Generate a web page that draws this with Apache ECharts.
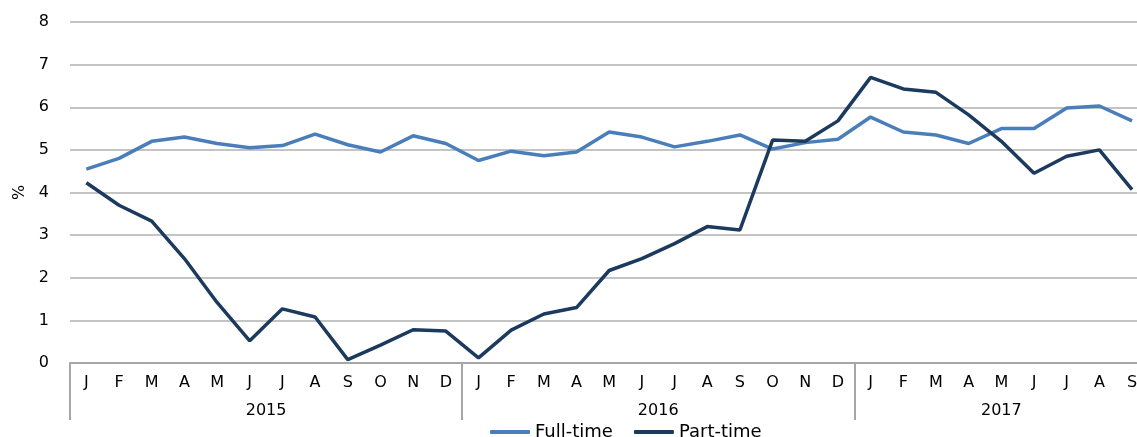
<!DOCTYPE html>
<html>
<head>
<meta charset="utf-8">
<script src="https://cdn.jsdelivr.net/npm/echarts@6/dist/echarts.min.js"></script>
<style>html,body{margin:0;padding:0;background:#fff;}#c{width:1137px;height:437px;}</style>
</head>
<body>
<div id="c"></div>
<script>
var months = ['J','F','M','A','M','J','J','A','S','O','N','D',
              'J','F','M','A','M','J','J','A','S','O','N','D',
              'J','F','M','A','M','J','J','A','S'];
var years = ['2015','2016','2017'];
var yearStarts = [0, 12, 24];
var yearMids = [6, 18, 28.5];
var fullTime = [4.55,4.8,5.2,5.3,5.15,5.05,5.1,5.37,5.12,4.95,5.33,5.15,
                4.75,4.97,4.86,4.95,5.42,5.3,5.07,5.2,5.35,5.02,5.17,5.25,
                5.77,5.42,5.35,5.15,5.5,5.5,5.98,6.03,5.68];
var partTime = [4.23,3.7,3.33,2.45,1.42,0.52,1.27,1.08,0.08,0.42,0.78,0.75,
                0.12,0.77,1.15,1.3,2.17,2.45,2.8,3.2,3.12,5.23,5.2,5.68,
                6.7,6.43,6.35,5.82,5.2,4.45,4.85,5.0,4.07];
var yTicks = [0,1,2,3,4,5,6,7,8];

var font = 'DejaVu Sans';
var chart = echarts.init(document.getElementById('c'));
chart.setOption({
  animation: false,
  textStyle: {fontFamily: font},
  grid: {left: 70, top: 22, bottom: 74, width: 1078.4, containLabel: false, outerBoundsMode: 'none'},
  legend: {
    top: 418, left: 485, itemWidth: 40, itemHeight: 4, itemGap: 21,
    icon: 'roundRect',
    textStyle: {fontFamily: font, fontSize: 18, color: '#000'},
    data: ['Full-time','Part-time']
  },
  xAxis: [{
    type: 'category', data: months, boundaryGap: true,
    axisLine: {lineStyle: {color: '#A6A6A6', width: 2}},
    axisTick: {interval: 0, length: 29, lineStyle: {color: '#A6A6A6', width: 2}},
    axisLabel: {interval: 0, margin: 12, color: '#000', fontSize: 16, fontFamily: font}
  }, {
    type: 'value', min: 0, max: 33, position: 'bottom',
    axisLine: {show: false}, splitLine: {show: false},
    axisTick: {show: true, customValues: yearStarts, length: 57, lineStyle: {color: '#A6A6A6', width: 2}},
    axisLabel: {customValues: yearMids, margin: 40, color: '#000', fontSize: 16, fontFamily: font,
      formatter: function (v) { var i = yearMids.indexOf(v); return i >= 0 ? years[i] : ''; }}
  }],
  yAxis: {
    type: 'value', min: 0, max: 8, interval: 1,
    name: '%', nameLocation: 'middle', nameGap: 42,
    nameTextStyle: {color: '#000', fontSize: 16, fontFamily: font},
    axisLine: {show: false}, axisTick: {show: false},
    axisLabel: {margin: 21, color: '#000', fontSize: 16, fontFamily: font,
      formatter: function (v) { return yTicks.indexOf(v) >= 0 ? String(v) : ''; }},
    splitLine: {lineStyle: {color: '#C4C4C4', width: 2}}
  },
  series: [{
    name: 'Full-time', type: 'line', data: fullTime, xAxisIndex: 0,
    symbol: 'none', lineStyle: {color: '#4A7EBB', width: 3.5}, itemStyle: {color: '#4A7EBB'}
  }, {
    name: 'Part-time', type: 'line', data: partTime, xAxisIndex: 0,
    symbol: 'none', lineStyle: {color: '#1C3A5E', width: 3.5}, itemStyle: {color: '#1C3A5E'}
  }]
});
</script>
</body>
</html>
